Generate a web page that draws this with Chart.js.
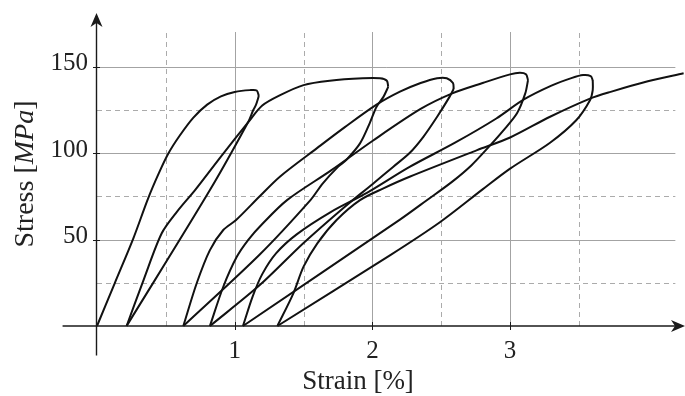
<!DOCTYPE html>
<html>
<head>
<meta charset="utf-8">
<script src="https://cdn.jsdelivr.net/npm/chart.js@4.4.1/dist/chart.umd.min.js"></script>
<style>
  html, body { margin: 0; padding: 0; background: #fff; }
  #wrap { width: 685px; height: 396px; position: relative; }
</style>
</head>
<body>
<div id="wrap"><canvas id="chart"></canvas></div>
<script>
// --- AXES / GRILLE ---
const xTicks = [1, 2, 3];
const yTicks = [50, 100, 150];
const xGridSolid = [1, 2, 3];
const xGridDashed = [0.5, 1.5, 2.5, 3.5];
const yGridSolid = [50, 100, 150];
const yGridDashed = [25, 75, 125];
const gridEnd = { x: 4.2, y: 170 };
const axisStart = { x: -0.25, y: -17 };
const xTitle = 'Strain [%]';
const yTitleParts = [['Stress [', 'normal'], ['MPa', 'italic'], [']', 'normal']];

// --- COURBES (strain %, stress MPa) ---
const load1 = [[0,0],[0.13,25],[0.264,50.7],[0.37,73.5],[0.45,88.5],[0.52,100],[0.6,110],[0.7,120.5],[0.8,128],[0.9,132.8],[1.0,135.3],[1.11,136.4],[1.16,136.2],[1.175,133]];
const unload1 = [[1.175,133],[1.155,128],[1.135,124.9],[1.099,118.1],[0.82,78.6],[0.215,0]];
const reload2 = [[0.215,0],[0.34,27],[0.47,53.6],[0.58,66],[0.712,78.6],[0.9,98],[1.10,118],[1.2,127.5],[1.33,133.5],[1.5,139.3],[1.69,141.8],[1.93,143.2],[2.055,143.2],[2.105,141.8],[2.115,138.3]];
const unload2 = [[2.115,138.3],[2.08,132.5],[2.03,126.8],[1.98,117.2],[1.91,105.6],[1.81,96],[1.75,92],[1.64,82.5],[1.55,72.8],[1.18,41.2],[0.627,0]];
const reload3 = [[0.627,0],[0.724,24.7],[0.82,43.9],[0.917,55.5],[1.01,61.3],[1.18,74.9],[1.33,86.5],[1.6,103],[1.8,115],[2.03,128],[2.2,135.5],[2.35,140.5],[2.47,143.3],[2.54,143.3],[2.585,140.5],[2.59,137]];
const unload3 = [[2.59,137],[2.56,132.5],[2.47,121],[2.37,109.4],[2.27,100],[2.15,92],[2.0,82],[1.8,69],[1.5,48],[1.18,23.5],[0.82,0]];
const reload4 = [[0.82,0],[0.917,22.7],[1.015,40],[1.1,50],[1.2,59],[1.38,72.8],[1.7,90],[2.0,107],[2.35,125.5],[2.58,134.5],[2.8,140.5],[3.0,145.5],[3.07,146.4],[3.115,145.6],[3.13,142.2]];
const unload4 = [[3.13,142.2],[3.11,134.5],[3.05,123],[2.95,113],[2.85,104],[2.72,93],[2.58,83.5],[2.4,73],[2.2,61.5],[1.06,0]];
const reload5 = [[1.06,0],[1.13,17],[1.2,30],[1.3,42],[1.45,53],[1.7,66],[1.96,77],[2.27,92],[2.6,106],[2.9,120],[3.1,131],[3.3,139],[3.45,143.5],[3.53,145.1],[3.585,144.5],[3.6,142.2]];
const unload5 = [[3.6,142.2],[3.6,136.4],[3.58,130.6],[3.48,119],[3.29,106],[3.0,91],[2.8,79],[2.49,60],[2.13,41],[1.31,0]];
const reload6 = [[1.31,0],[1.426,18.9],[1.5,34.3],[1.6,47.8],[1.74,61.3],[1.91,72.8],[2.08,79.6],[2.27,86.3],[2.76,101.7],[3.0,109],[3.29,121],[3.58,131.5],[3.73,135.4],[4.0,141.5],[4.26,146.2]];

const branches = [load1, unload1, reload2, unload2, reload3, unload3, reload4, unload4, reload5, unload5, reload6];

const FONT = "'Liberation Serif', 'Times New Roman', serif";

// Grille + axes flèchés + titres (dessinés via les échelles Chart.js)
const frame = {
  id: 'frame',
  beforeDatasetsDraw(chart) {
    const { ctx, scales: { x, y } } = chart;
    const crisp = v => Math.round(v) + 0.5;
    ctx.save();
    ctx.lineWidth = 1;
    const vline = (v, dashed) => {
      const px = crisp(x.getPixelForValue(v));
      ctx.strokeStyle = dashed ? '#ababab' : '#a3a3a3';
      ctx.setLineDash(dashed ? [5, 4] : []);
      ctx.beginPath();
      ctx.moveTo(px, y.getPixelForValue(0));
      ctx.lineTo(px, y.getPixelForValue(gridEnd.y));
      ctx.stroke();
    };
    const hline = (v, dashed) => {
      const py = crisp(y.getPixelForValue(v));
      ctx.strokeStyle = dashed ? '#ababab' : '#a3a3a3';
      ctx.setLineDash(dashed ? [5, 4] : []);
      ctx.beginPath();
      ctx.moveTo(x.getPixelForValue(0), py);
      ctx.lineTo(x.getPixelForValue(gridEnd.x), py);
      ctx.stroke();
    };
    xGridDashed.forEach(v => vline(v, true));
    yGridDashed.forEach(v => hline(v, true));
    xGridSolid.forEach(v => vline(v, false));
    yGridSolid.forEach(v => hline(v, false));
    ctx.restore();
  },
  afterDatasetsDraw(chart) {
    const { ctx, chartArea, scales: { x, y } } = chart;
    const x0 = x.getPixelForValue(0) - 0.5;
    const y0 = y.getPixelForValue(0);
    ctx.save();
    ctx.strokeStyle = '#1a1a1a';
    ctx.fillStyle = '#1a1a1a';
    ctx.lineWidth = 1.4;
    ctx.setLineDash([]);

    // axe X
    const xTip = chartArea.right;
    ctx.beginPath();
    ctx.moveTo(x.getPixelForValue(axisStart.x), y0);
    ctx.lineTo(xTip - 6, y0);
    ctx.stroke();
    ctx.beginPath();
    ctx.moveTo(xTip, y0);
    ctx.lineTo(xTip - 14, y0 - 6);
    ctx.lineTo(xTip - 10, y0);
    ctx.lineTo(xTip - 14, y0 + 6);
    ctx.closePath();
    ctx.fill();

    // axe Y
    const yTip = chartArea.top;
    ctx.beginPath();
    ctx.moveTo(x0, y.getPixelForValue(axisStart.y));
    ctx.lineTo(x0, yTip + 6);
    ctx.stroke();
    ctx.beginPath();
    ctx.moveTo(x0, yTip);
    ctx.lineTo(x0 - 6, yTip + 14);
    ctx.lineTo(x0, yTip + 10);
    ctx.lineTo(x0 + 6, yTip + 14);
    ctx.closePath();
    ctx.fill();

    // graduations
    ctx.lineWidth = 1;
    xTicks.forEach(v => {
      const px = Math.round(x.getPixelForValue(v)) + 0.5;
      ctx.beginPath(); ctx.moveTo(px, y0 - 4); ctx.lineTo(px, y0 + 4); ctx.stroke();
    });
    yTicks.forEach(v => {
      const py = Math.round(y.getPixelForValue(v)) + 0.5;
      ctx.beginPath(); ctx.moveTo(x0 - 3.5, py); ctx.lineTo(x0 + 3.5, py); ctx.stroke();
    });

    // titres
    ctx.fillStyle = '#222';
    ctx.textBaseline = 'alphabetic';
    ctx.textAlign = 'center';
    ctx.font = `27px ${FONT}`;
    ctx.fillText(xTitle, 358, 389);

    ctx.textAlign = 'left';
    const widths = yTitleParts.map(([t, s]) => { ctx.font = `${s} 28px ${FONT}`; return ctx.measureText(t).width; });
    const total = widths.reduce((a, b) => a + b, 0);
    ctx.translate(33, 174);
    ctx.rotate(-Math.PI / 2);
    let cx = -total / 2;
    yTitleParts.forEach(([t, s], i) => {
      ctx.font = `${s} 28px ${FONT}`;
      ctx.fillText(t, cx, 0);
      cx += widths[i];
    });
    ctx.restore();
  }
};

new Chart(document.getElementById('chart'), {
  type: 'scatter',
  data: {
    datasets: branches.map(b => ({
      data: b.map(([sx, sy]) => ({ x: sx, y: sy })),
      showLine: true,
      borderColor: '#111',
      borderWidth: 2,
      pointRadius: 0,
      tension: 0.3,
      clip: false
    }))
  },
  options: {
    responsive: true,
    maintainAspectRatio: false,
    animation: false,
    events: [],
    layout: { padding: { left: 0, right: 0, top: 13, bottom: 0 } },
    plugins: { legend: { display: false }, tooltip: { enabled: false } },
    scales: {
      x: {
        type: 'linear',
        min: 0, max: 4.27,
        grid: { display: false, drawTicks: false },
        border: { display: false },
        afterBuildTicks: s => { s.ticks = xTicks.map(v => ({ value: v })); },
        afterFit: s => { s.height = 70; s.paddingLeft = 0; s.paddingRight = 0; },
        ticks: { padding: 10, color: '#222', font: { family: FONT, size: 25 }, maxRotation: 0 }
      },
      y: {
        type: 'linear',
        min: 0, max: 181,
        grid: { display: false, drawTicks: false },
        border: { display: false },
        afterBuildTicks: s => { s.ticks = yTicks.map(v => ({ value: v })); },
        afterFit: s => { s.width = 97; s.paddingTop = 0; s.paddingBottom = 0; },
        ticks: { padding: 9, labelOffset: -3, color: '#222', font: { family: FONT, size: 25 } }
      }
    }
  },
  plugins: [frame]
});
</script>
</body>
</html>
